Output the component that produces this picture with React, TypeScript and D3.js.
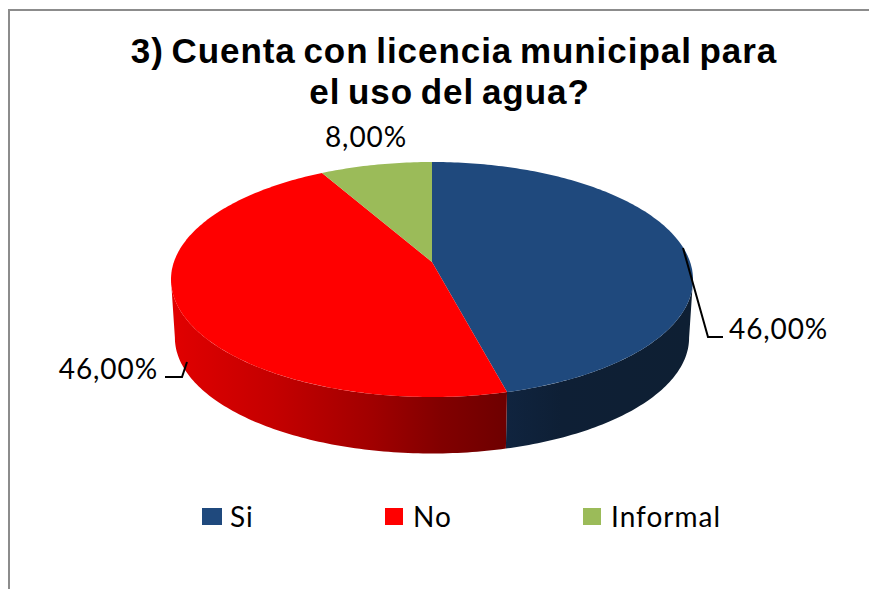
import React from "react";
import * as d3 from "d3";

const categories = ["Si", "No", "Informal"];
const shares = [46, 46, 8];
const valueLabels = ["46,00%", "46,00%", "8,00%"];
const topColors = ["#1f497d", "#ff0000", "#9bbb59"];
const titleLines = ["3) Cuenta con licencia municipal para", "el uso del agua?"];

const W = 869;
const H = 589;
const APEX_X = 432;
const APEX_Y = 262;
const RADIUS_X = 258.1;
const RADIUS_Y = 114.9;
const TILT = 0.149;
const DEPTH = 58.5;
const LABEL_FONT = "Lato, 'Open Sans', sans-serif";

// Perspective projection of a point on the unit disc; angle 0 points to the back of the pie.
function project(angle: number, radius = 1, scale = 1): [number, number] {
  const u = Math.sin(angle) * radius;
  const v = -Math.cos(angle) * radius;
  const d = 1 - TILT * v;
  return [APEX_X + (RADIUS_X * scale * u) / d, APEX_Y + (RADIUS_Y * scale * v) / d];
}

function rim(start: number, end: number, drop = 0, scale = 1): [number, number][] {
  const steps = Math.max(2, Math.ceil(Math.abs(end - start) * 60));
  return d3.range(steps + 1).map((i) => {
    const a = start + ((end - start) * i) / steps;
    const [x, y] = project(a, 1, scale);
    return [x, y + drop] as [number, number];
  });
}

const line = d3.line();
const slices = d3.pie<number>().sort(null)(shares);

// The wall shows between the two horizontal extremes of the projected rim, which sit
// slightly in front of the disc's centre line because of the perspective.
const wallFrom = Math.PI / 2 + Math.asin(TILT);
const wallTo = (3 * Math.PI) / 2 - Math.asin(TILT);

function wallPath(start: number, end: number): string | null {
  const s = Math.max(start, wallFrom);
  const e = Math.min(end, wallTo);
  if (e <= s) return null;
  return line([...rim(s, e), ...rim(s, e, DEPTH, 0.985).reverse()]) + "Z";
}

function topPath(start: number, end: number): string {
  return line([[APEX_X, APEX_Y], ...rim(start, end)]) + "Z";
}

const wallFills = ["url(#wallBlue)", "url(#wallRed)", "#5e7036"];

const leaderPaths = [
  "M683,248L708,337L723,337",
  "M187,362L182,377L165,377",
];
const labelSpots: [number, number, "start" | "middle" | "end"][] = [
  [729, 339, "start"],
  [158, 379, "end"],
  [366, 147, "middle"],
];
const titleX = [454, 449.5];
const legendSwatchX = [202, 385, 583];
const legendSwatchW = [20, 18, 18];
const legendTextX = [230, 413, 611];

export default function App() {
  return (
    <svg
      width={W}
      height={H}
      viewBox={`0 0 ${W} ${H}`}
      style={{ position: "absolute", left: 0, top: 0, background: "#fff" }}
    >
      <defs>
        <linearGradient id="wallRed" gradientUnits="userSpaceOnUse" x1={175} x2={506} y1={0} y2={0}>
          <stop offset="0" stopColor="#e00000" />
          <stop offset="0.3" stopColor="#c40000" />
          <stop offset="0.6" stopColor="#a00000" />
          <stop offset="0.8" stopColor="#820000" />
          <stop offset="1" stopColor="#6e0000" />
        </linearGradient>
        <linearGradient id="wallBlue" gradientUnits="userSpaceOnUse" x1={506} x2={690} y1={0} y2={0}>
          <stop offset="0" stopColor="#10243f" />
          <stop offset="0.3" stopColor="#0e1f35" />
          <stop offset="1" stopColor="#0e1f33" />
        </linearGradient>
      </defs>

      <path d="M9,589V10H869" fill="none" stroke="#8c8c8c" strokeWidth={2} />

      {titleLines.map((t, i) => (
        <text
          key={t}
          x={titleX[i]}
          y={62.5 + i * 41}
          textAnchor="middle"
          fontFamily="'Liberation Sans', Arial, sans-serif"
          fontWeight={700}
          fontSize={35}
          letterSpacing={0.95}
          wordSpacing={-3}
        >
          {t}
        </text>
      ))}

      {slices.map((s, i) => {
        const d = wallPath(s.startAngle, s.endAngle);
        return d ? <path key={categories[i]} d={d} fill={wallFills[i]} /> : null;
      })}
      {slices.map((s, i) => (
        <path key={categories[i]} d={topPath(s.startAngle, s.endAngle)} fill={topColors[i]} />
      ))}

      {leaderPaths.map((d) => (
        <path key={d} d={d} fill="none" stroke="#000" strokeWidth={2} />
      ))}
      {valueLabels.map((t, i) => (
        <text
          key={i}
          x={labelSpots[i][0]}
          y={labelSpots[i][1]}
          textAnchor={labelSpots[i][2]}
          fontFamily={LABEL_FONT}
          fontSize={28}
          letterSpacing={0.9}
          fill="#000"
        >
          {t}
        </text>
      ))}

      {categories.map((c, i) => (
        <g key={c}>
          <rect x={legendSwatchX[i]} y={508} width={legendSwatchW[i]} height={17} fill={topColors[i]} />
          <text
            x={legendTextX[i]}
            y={527}
            fontFamily={LABEL_FONT}
            fontSize={28}
            letterSpacing={1}
            fill="#000"
          >
            {c}
          </text>
        </g>
      ))}
    </svg>
  );
}
